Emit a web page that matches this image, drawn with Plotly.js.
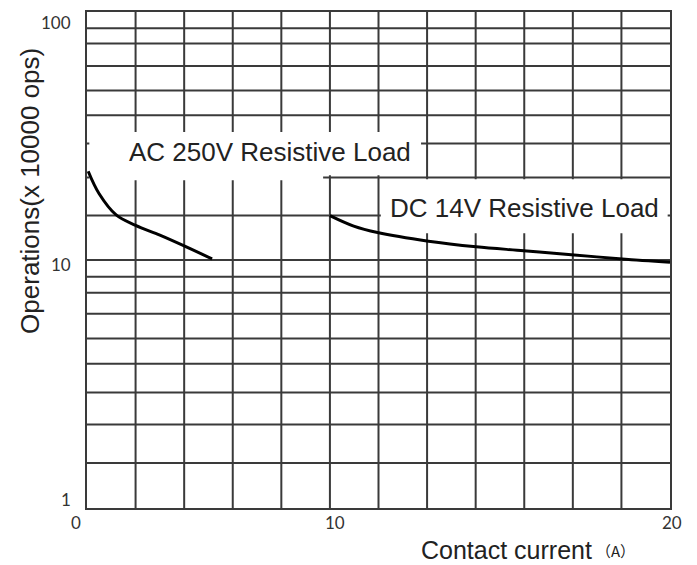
<!DOCTYPE html>
<html>
<head>
<meta charset="utf-8">
<script src="https://cdn.plot.ly/plotly-3.0.1.min.js"></script>
<style>html,body{margin:0;padding:0;background:#fff;}#chart{width:697px;height:565px;}</style>
</head>
<body>
<div id="chart"></div>
<script>
// ---- data ----
const acCurrent = [0.05, 0.5, 1.2, 2.0, 3.0, 4.0, 5.15];
const acOps     = [22.8, 18.5, 15.2, 13.8, 12.6, 11.4, 10.1];
const dcCurrent = [10, 10.7, 11.4, 12.9, 14.3, 15.7, 17.1, 18.6, 20];
const dcOps     = [15.1, 13.7, 12.9, 11.9, 11.3, 10.9, 10.5, 10.1, 9.8];
const xTickLabels = [0, 10, 20];
const yTickLabels = [1, 10, 100];
// grid lines as printed on the reference (uneven sub-decade lines)
const yGridVals = [1.52, 2.17, 2.92, 3.82, 4.82, 6.07, 7.37, 8.55, 10,
                   15.1, 21.5, 29.5, 38.3, 48.3, 60.6, 74.7, 85.9];
const xGridCols = [1,2,3,4,5,6,7,8,9,10,11];

// reference x scale: 0-10 A over 5 columns, 10-20 A over 7 columns
function col(c){ return c <= 10 ? c/2 : 5 + (c-10)*0.7; }

const gridColor = '#3a3a3a';
const txtFont = 'Liberation Sans, Arial, sans-serif';

const traces = [
  {x: acCurrent.map(col), y: acOps, mode:'lines', line:{color:'#000', width:3, shape:'spline'}, hoverinfo:'skip'},
  {x: dcCurrent.map(col), y: dcOps, mode:'lines', line:{color:'#000', width:3, shape:'spline'}, hoverinfo:'skip'}
];

const annotations = [];
const xShift = [-11, 5, 2];
xTickLabels.forEach((v,i)=>annotations.push({
  xref:'x', yref:'paper', x: col(v), y: -0.030, text: String(v), showarrow:false,
  xanchor:'center', yanchor:'middle',
  xshift: xShift[i], font:{family:'Lato, sans-serif', size:17, color:'#333'}
}));
const yShift = [9, -4, -10];
yTickLabels.forEach((v,i)=>annotations.push({
  xref:'paper', yref:'y', x: 0, y: Math.log10(v), text: String(v), showarrow:false,
  xanchor:'right', yanchor:'middle', xshift:-14, yshift: yShift[i],
  font:{family:'Lato, sans-serif', size:17, color:'#333'}
}));
function label(text, x, y, extra){
  return Object.assign({xref:'paper', yref:'paper', x:x, y:y, text:text, showarrow:false,
    xanchor:'center', yanchor:'middle', font:{family:txtFont, size:26, color:'#222'}}, extra||{});
}
annotations.push(
  label('AC 250V Resistive Load', 0.314, 0.718),
  label('DC 14V Resistive Load', 0.751, 0.605),
  label('Operations(x 10000 ops)', -0.098, 0.639, {textangle:-90}),
  label('Contact current', 0.7187, -0.085, {font:{family:txtFont, size:25, color:'#222'}}),
  label('（A）', 0.907, -0.085, {font:{family:'Noto Sans CJK SC, sans-serif', size:15, color:'#222'}})
);

const shapes = [];
xGridCols.forEach(c=>shapes.push({type:'line', xref:'x', yref:'paper', x0:c, x1:c, y0:0, y1:1,
  line:{color:gridColor, width:2}, layer:'below'}));
yGridVals.forEach(v=>shapes.push({type:'line', xref:'paper', yref:'y', x0:0, x1:1,
  y0:v, y1:v, line:{color:gridColor, width:2}, layer:'below'}));
// white boxes behind the two curve labels (as on the reference)
[[0.004,0.405,0.661,0.758],[0.404,0.573,0.671,0.758],[0.504,0.996,0.554,0.663]].forEach(b=>
  shapes.push({type:'rect', xref:'paper', yref:'paper', x0:b[0], x1:b[1], y0:b[2], y1:b[3],
    fillcolor:'#fff', line:{width:0}, layer:'below'}));

const layout = {
  width:697, height:565,
  margin:{l:87, r:27, t:12, b:57, pad:0},
  paper_bgcolor:'#fff', plot_bgcolor:'rgba(0,0,0,0)',
  showlegend:false,
  xaxis:{range:[0,12], showticklabels:false, ticks:'', showgrid:false, zeroline:false,
         showline:true, mirror:true, linecolor:gridColor, linewidth:2, fixedrange:true},
  yaxis:{type:'log', range:[0,2], showticklabels:false, ticks:'', showgrid:false, zeroline:false,
         showline:true, mirror:true, linecolor:gridColor, linewidth:2, fixedrange:true},
  annotations: annotations,
  shapes: shapes
};
Plotly.newPlot('chart', traces, layout, {displayModeBar:false, staticPlot:true});
</script>
</body>
</html>
